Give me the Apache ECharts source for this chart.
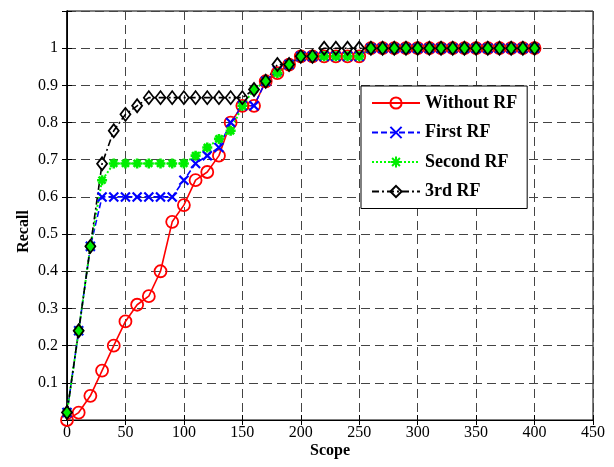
<!DOCTYPE html>
<html>
<head>
<meta charset="utf-8">
<script src="https://cdn.jsdelivr.net/npm/echarts@6/dist/echarts.min.js"></script>
<style>
  html, body { margin: 0; padding: 0; background: #fff; }
  #chart { width: 614px; height: 467px; }
</style>
</head>
<body>
<div id="chart"></div>
<script>
// x positions (Scope) shared by all curves
const scope = [0, 10, 20, 30, 40, 50, 60, 70, 80, 90, 100, 110, 120, 130, 140, 150, 160, 170, 180, 190,
  200, 210, 220, 230, 240, 250, 260, 270, 280, 290, 300, 310, 320, 330, 340, 350, 360, 370, 380, 390, 400];

const withoutRF = [0, 0.02, 0.065, 0.133, 0.2, 0.265, 0.31, 0.333, 0.4, 0.533, 0.578, 0.645, 0.667, 0.711,
  0.8, 0.845, 0.845, 0.911, 0.933, 0.956, 0.978, 0.978, 0.978, 0.978, 0.978, 0.978,
  1, 1, 1, 1, 1, 1, 1, 1, 1, 1, 1, 1, 1, 1, 1];

const firstRF = [0.02, 0.24, 0.467, 0.6, 0.6, 0.6, 0.6, 0.6, 0.6, 0.6, 0.645, 0.69, 0.711, 0.733,
  0.8, 0.845, 0.845, 0.911, 0.94, 0.956, 0.978, 0.978, 0.978, 0.978, 0.978, 0.978,
  1, 1, 1, 1, 1, 1, 1, 1, 1, 1, 1, 1, 1, 1, 1];

const secondRF = [0.02, 0.24, 0.467, 0.645, 0.69, 0.69, 0.69, 0.69, 0.69, 0.69, 0.69, 0.711, 0.733, 0.756,
  0.778, 0.845, 0.889, 0.911, 0.933, 0.956, 0.978, 0.978, 0.978, 0.978, 0.978, 0.978,
  1, 1, 1, 1, 1, 1, 1, 1, 1, 1, 1, 1, 1, 1, 1];

const thirdRF = [0.02, 0.24, 0.467, 0.689, 0.778, 0.822, 0.845, 0.867, 0.867, 0.867, 0.867, 0.867, 0.867, 0.867,
  0.867, 0.867, 0.889, 0.911, 0.956, 0.956, 0.978, 0.978,
  1, 1, 1, 1, 1, 1, 1, 1, 1, 1, 1, 1, 1, 1, 1, 1, 1, 1, 1];

const seriesNames = ['Without RF', 'First RF', 'Second RF', '3rd RF'];

const serif = '"Liberation Serif", "Times New Roman", serif';

// pair each value with its scope position
const toPairs = values => values.map((v, i) => [scope[i], v]);

// marker shapes drawn as strokes
const crossPath = 'path://M0,0L10,10M10,0L0,10';
const starPath = 'path://M5,0L5,10M0,5L10,5M1.5,1.5L8.5,8.5M8.5,1.5L1.5,8.5';

const gridLine = { show: true, lineStyle: { color: '#444', type: [9, 5], width: 1 } };

const chart = echarts.init(document.getElementById('chart'), null, { renderer: 'canvas' });

chart.setOption({
  animation: false,
  backgroundColor: '#fff',
  textStyle: { fontFamily: serif },
  grid: { left: 67, right: 21, top: 11, bottom: 47, show: true, borderColor: '#000', borderWidth: 1 },
  legend: {
    orient: 'vertical',
    left: 361,
    top: 86,
    padding: [8, 10, 8, 10],
    itemWidth: 48,
    itemHeight: 14,
    itemGap: 11.5,
    backgroundColor: '#fff',
    borderColor: '#000',
    borderWidth: 1,
    borderRadius: 0,
    data: seriesNames,
    textStyle: { fontFamily: serif, fontSize: 18, fontWeight: 'bold', color: '#000' }
  },
  xAxis: [{
    type: 'value',
    min: 0,
    max: 450,
    interval: 50,
    name: 'Scope',
    nameLocation: 'middle',
    nameGap: 23,
    nameMoveOverlap: false,
    nameTextStyle: { fontFamily: serif, fontSize: 16, fontWeight: 'bold', color: '#000' },
    axisLine: { show: true, lineStyle: { color: '#000', width: 1 } },
    axisTick: { show: true, inside: true, length: 5, lineStyle: { color: '#000' } },
    axisLabel: { fontFamily: serif, fontSize: 16, color: '#000', margin: 5 },
    splitLine: gridLine
  }, {
    type: 'value',
    position: 'top',
    min: 0,
    max: 450,
    interval: 50,
    axisLine: { show: true, lineStyle: { color: '#000' } },
    axisTick: { show: true, inside: true, length: 5, lineStyle: { color: '#000' } },
    axisLabel: { show: false },
    splitLine: { show: false }
  }],
  yAxis: [{
    type: 'value',
    min: 0,
    max: 1.1,
    interval: 0.1,
    name: 'Recall',
    nameLocation: 'middle',
    nameGap: 35,
    nameMoveOverlap: false,
    nameTextStyle: { fontFamily: serif, fontSize: 16, fontWeight: 'bold', color: '#000', padding: [0, 32, 0, 0] },
    axisLine: { show: true, lineStyle: { color: '#000', width: 1 } },
    axisTick: { show: true, inside: true, length: 5, lineStyle: { color: '#000' } },
    axisLabel: {
      fontFamily: serif,
      fontSize: 16,
      color: '#000',
      margin: 9,
      // no labels at 0 and at the top edge
      formatter: v => (v < 0.05 || v > 1.05) ? '' : String(+v.toFixed(1))
    },
    splitLine: gridLine
  }, {
    type: 'value',
    position: 'right',
    min: 0,
    max: 1.1,
    interval: 0.1,
    axisLine: { show: true, lineStyle: { color: '#000', width: 1.5 } },
    axisTick: { show: true, inside: true, length: 5, lineStyle: { color: '#000' } },
    axisLabel: { show: false },
    splitLine: { show: false }
  }],
  series: [
    {
      name: seriesNames[0],
      type: 'line',
      data: toPairs(withoutRF),
      symbol: 'circle',
      symbolSize: 12,
      lineStyle: { color: '#ff0000', width: 1.6, type: 'solid' },
      itemStyle: { color: 'rgba(255,255,255,0)', borderColor: '#ff0000', borderWidth: 1.8 }
    },
    {
      name: seriesNames[1],
      type: 'line',
      data: toPairs(firstRF),
      symbol: crossPath,
      symbolSize: 9,
      lineStyle: { color: '#0000ff', width: 1.6, type: [6, 3] },
      itemStyle: { color: 'rgba(0,0,255,0)', borderColor: '#0000ff', borderWidth: 2.2 }
    },
    {
      name: seriesNames[2],
      type: 'line',
      data: toPairs(secondRF),
      symbol: starPath,
      symbolSize: 10,
      lineStyle: { color: '#00ff00', width: 2, type: [2, 2] },
      itemStyle: { color: 'rgba(0,255,0,0)', borderColor: '#00ee00', borderWidth: 2.6 }
    },
    {
      name: seriesNames[3],
      type: 'line',
      data: toPairs(thirdRF),
      symbol: 'diamond',
      symbolSize: [10, 13],
      lineStyle: { color: '#000', width: 1.6, type: [7, 3, 2, 3] },
      itemStyle: { color: 'rgba(255,255,255,0)', borderColor: '#000', borderWidth: 1.8 }
    }
  ]
});
</script>
</body>
</html>
